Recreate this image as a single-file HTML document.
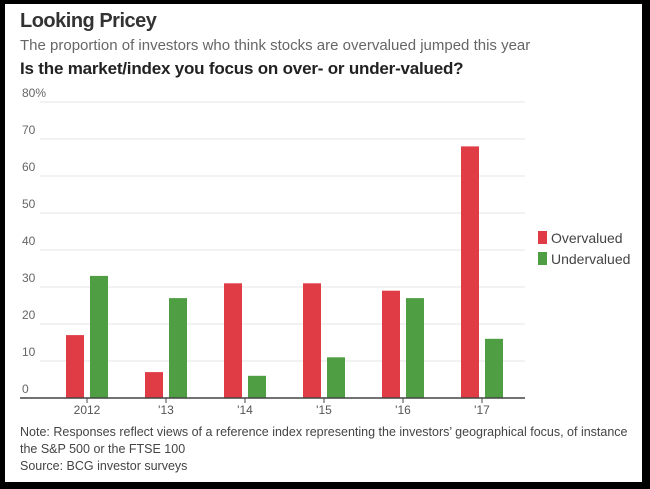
<!DOCTYPE html>
<html><head><meta charset="utf-8"><style>
body{margin:0;width:650px;height:489px;background:#000;overflow:hidden;font-family:"Liberation Sans",sans-serif}
#card{position:absolute;left:5px;top:4px;width:637px;height:478px;background:#fff}
.t{position:absolute;white-space:nowrap;color:#222}
</style></head><body>
<div id="card">
<div class="t" style="left:15px;top:6px;font-size:20px;font-weight:bold;color:#333;letter-spacing:-0.5px">Looking Pricey</div>
<div class="t" style="left:15px;top:33px;font-size:15px;color:#666;letter-spacing:0px">The proportion of investors who think stocks are overvalued jumped this year</div>
<div class="t" style="left:15px;top:55px;font-size:17px;font-weight:bold;color:#222;letter-spacing:-0.2px">Is the market/index you focus on over- or under-valued?</div>
<div class="t" style="left:15px;top:420px;font-size:12.5px;color:#444;line-height:17px;letter-spacing:0px">Note: Responses reflect views of a reference index representing the investors’ geographical focus, of instance<br>the S&amp;P 500 or the FTSE 100<br>Source: BCG investor surveys</div>
</div>
<svg id="chart" width="650" height="489" style="position:absolute;left:0;top:0"></svg>
<script>
const categories=["2012","'13","'14","'15","'16","'17"];
const overvalued=[17,7,31,31,29,68];
const undervalued=[33,27,6,11,27,16];
const yTicks=[0,10,20,30,40,50,60,70,80];
const seriesNames=["Overvalued","Undervalued"];
const ns="http://www.w3.org/2000/svg";
const svg=document.getElementById('chart');
const y=v=>398-v*3.7;
const xc=i=>87+i*79;
function mk(t,a){const e=document.createElementNS(ns,t);for(const k in a)e.setAttribute(k,a[k]);svg.appendChild(e);return e;}
yTicks.forEach(v=>{
 if(v>0){const l=mk('line',{x1:40,x2:525,y1:y(v),y2:y(v),stroke:'#e6e6e6','stroke-width':1});
 
 }
 const t=mk('text',{x:22,y:y(v)-5,'font-size':12,fill:'#666','font-family':'Liberation Sans, sans-serif'});
 t.textContent=v===80?'80%':String(v);
 
 
});
const cols=['#e03c46','#4f9e43'];
categories.forEach((c,i)=>{
 [overvalued[i],undervalued[i]].forEach((v,s)=>{
  const x=s===0?xc(i)-21:xc(i)+3;
  const r=mk('rect',{x:x,y:y(v),width:18,height:y(0)-y(v),fill:cols[s]});
  
  
 });
 const tk=mk('line',{x1:xc(i),x2:xc(i),y1:398,y2:403,stroke:'#444'});
 
 
 const t=mk('text',{x:xc(i),y:414,'font-size':12,fill:'#555','text-anchor':'middle','font-family':'Liberation Sans, sans-serif'});
 t.textContent=c;
 
 
});
const ax=mk('line',{x1:20,x2:525,y1:398,y2:398,stroke:'#444','stroke-width':1.5});


seriesNames.forEach((n,s)=>{
 const r=mk('rect',{x:538,y:231+s*21,width:9,height:13,fill:cols[s]});
 
 
 const t=mk('text',{x:551,y:243+s*21,'font-size':14,fill:'#444','font-family':'Liberation Sans, sans-serif'});
 t.textContent=n;
 
 
});
</script>
</body></html>
